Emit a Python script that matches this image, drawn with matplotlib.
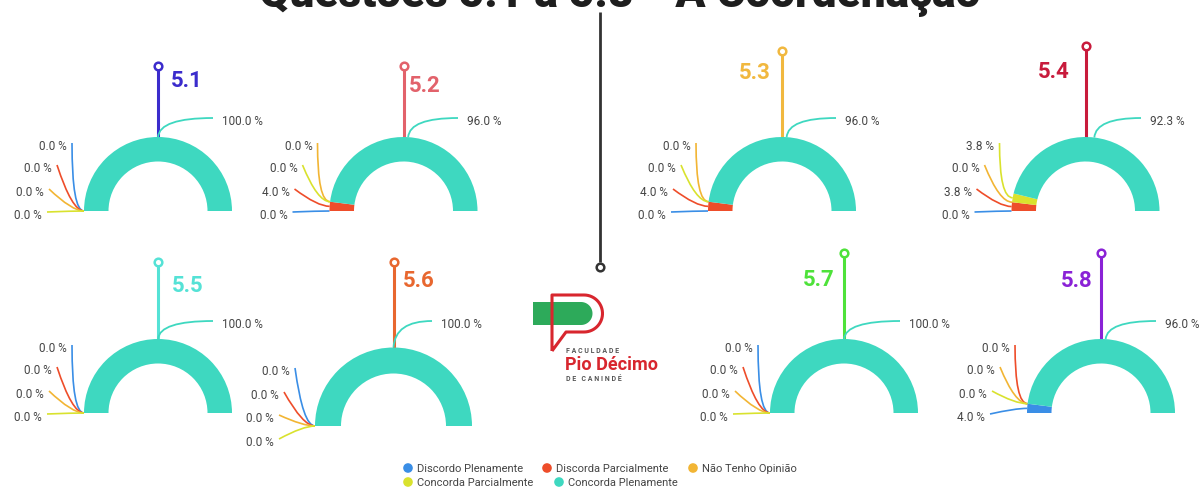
import matplotlib
matplotlib.use('Agg')
import matplotlib.pyplot as plt
from matplotlib.patches import Wedge, PathPatch
from matplotlib.path import Path
import numpy as np

plt.rcParams['font.family'] = ['Roboto', 'DejaVu Sans']

W, H = 1202, 489

# ---------------- data ----------------
title = 'Questões 5.1 a 5.8 - A Coordenação'
questions = ['5.1', '5.2', '5.3', '5.4', '5.5', '5.6', '5.7', '5.8']
categories = ['Discordo Plenamente', 'Discorda Parcialmente', 'Não Tenho Opinião',
              'Concorda Parcialmente', 'Concorda Plenamente']
discordo_plenamente = [0.0, 0.0, 0.0, 0.0, 0.0, 0.0, 0.0, 4.0]
discorda_parcialmente = [0.0, 4.0, 4.0, 3.8, 0.0, 0.0, 0.0, 0.0]
nao_tenho_opiniao = [0.0, 0.0, 0.0, 0.0, 0.0, 0.0, 0.0, 0.0]
concorda_parcialmente = [0.0, 0.0, 0.0, 3.8, 0.0, 0.0, 0.0, 0.0]
concorda_plenamente = [100.0, 96.0, 96.0, 92.3, 100.0, 100.0, 100.0, 96.0]

# ---------------- style ----------------
cat_colors = ['#3a8ee6', '#ee4d2a', '#f2b534', '#d9e22e', '#3ed8c0']
pin_colors = ['#3b2ccc', '#e2626b', '#f1b83f', '#c81b3c', '#55e2d6', '#e8672f', '#4ee23a', '#8a22d6']
text_gray = '#454545'

std_dx = [-17, -32, -40, -42]
std_dy = [-65, -43, -19, 4]
# layout per gauge (pixel coordinates, y downwards)
layout = [
    dict(cx=158, base=212, R=74, ring=24.5, pin=67, side='right', lab=(171, 81), teal=(222, 122), dx=std_dx, dy=std_dy, order=[0, 1, 2, 3]),
    dict(cx=403.5, base=212, R=74, ring=24.5, pin=67, side='right', lab=(409, 86), teal=(467, 122), dx=std_dx, dy=std_dy, order=[2, 3, 1, 0]),
    dict(cx=782, base=212, R=74, ring=24.5, pin=52, side='left', lab=(771, 73), teal=(845, 122), dx=std_dx, dy=std_dy, order=[2, 3, 1, 0]),
    dict(cx=1085.5, base=212, R=74, ring=24.5, pin=47, side='left', lab=(1070, 72), teal=(1150, 122), dx=std_dx, dy=std_dy, order=[3, 2, 1, 0]),
    dict(cx=158, base=414, R=74, ring=24.5, pin=263, side='right', lab=(172, 286), teal=(222, 325), dx=std_dx, dy=std_dy, order=[0, 1, 2, 3]),
    dict(cx=393.5, base=427, R=78.5, ring=26, pin=263, side='right', lab=(403, 281), teal=(441, 325), dx=[-25, -36, -41, -41], dy=[-55, -31, -8, 16], order=[0, 1, 2, 3]),
    dict(cx=844, base=414, R=74, ring=24.5, pin=254, side='left', lab=(834, 280), teal=(909, 325), dx=std_dx, dy=std_dy, order=[0, 1, 2, 3]),
    dict(cx=1101, base=414, R=74, ring=24.5, pin=254, side='left', lab=(1093, 281), teal=(1165, 325), dx=std_dx, dy=std_dy, order=[1, 2, 3, 0]),
]


def Y(y):
    return H - y


fig = plt.figure(figsize=(W / 100, H / 100), dpi=100)
ax = fig.add_axes([0, 0, 1, 1])
ax.set_xlim(0, W)
ax.set_ylim(0, H)
ax.axis('off')

# central divider
ax.plot([600, 600], [Y(13), Y(263)], color='#333333', lw=2.0, solid_capstyle='butt', zorder=2)
ax.plot(600, Y(268), 'o', ms=5.5, mfc='white', mec='#333333', mew=1.8, zorder=3)

series = [discordo_plenamente, discorda_parcialmente, nao_tenho_opiniao,
          concorda_parcialmente, concorda_plenamente]

for i, q in enumerate(questions):
    L = layout[i]
    cx, base, R, ring = L['cx'], L['base'], L['R'], L['ring']
    cy = Y(base)
    vals = [s[i] for s in series]
    total = sum(vals)
    # pin
    pc = pin_colors[i]
    ax.plot([cx, cx], [cy + R - 2, Y(L['pin'])], color=pc, lw=2.2, solid_capstyle='butt', zorder=2)
    ax.plot(cx, Y(L['pin']), 'o', ms=5.5, mfc='white', mec=pc, mew=1.8, zorder=3)
    lx, ly = L['lab']
    ax.text(lx, Y(ly), q, color=pc, fontsize=16, fontweight='bold',
            ha='left' if L['side'] == 'right' else 'right', va='center', zorder=4)
    # gauge segments
    start = 180.0
    mids = []
    for k, v in enumerate(vals):
        sweep = v / total * 180.0
        if sweep > 0:
            ax.add_patch(Wedge((cx, cy), R, start - sweep, start, width=ring,
                               facecolor=cat_colors[k], edgecolor='none', zorder=3))
        mids.append(start - sweep / 2)
        start -= sweep
    anchors = [(cx + R * np.cos(np.radians(a)), cy + R * np.sin(np.radians(a))) for a in mids]
    # teal label
    ax_, ay_ = anchors[4]
    tx, ty = L['teal']
    p = Path([(ax_, ay_), (ax_ + 1.5, Y(ty - 3)), (tx - 9, Y(ty - 3))],
             [Path.MOVETO, Path.CURVE3, Path.CURVE3])
    ax.add_patch(PathPatch(p, facecolor='none', edgecolor=cat_colors[4], lw=1.3, zorder=4))
    ax.text(tx, Y(ty), f'{vals[4]:.1f} %', fontsize=8.5, color=text_gray, ha='left', va='center', zorder=5)
    # left labels
    left_edge = cx - R
    for j, k in enumerate(L['order']):
        rx = left_edge + L['dx'][j]
        ry = base + L['dy'][j]
        p0 = (rx + 5, Y(ry - 3))
        a2 = anchors[k]
        p1 = (left_edge - 12, a2[1])
        p = Path([p0, p1, a2], [Path.MOVETO, Path.CURVE3, Path.CURVE3])
        ax.add_patch(PathPatch(p, facecolor='none', edgecolor=cat_colors[k], lw=1.2, zorder=2))
        ax.text(rx, Y(ry), f'{vals[k]:.1f} %', fontsize=8.5, color=text_gray, ha='right', va='center', zorder=5)

# ---------------- logo ----------------
th = np.linspace(90, -90, 30)
green = [(533, Y(303)), (581, Y(303))] + \
        [(581 + 11.5 * np.cos(np.radians(t)), Y(314.5) + 11.5 * np.sin(np.radians(t))) for t in th] + \
        [(533, Y(326)), (533, Y(303))]
ax.add_patch(PathPatch(Path(green), facecolor='#2daa5a', edgecolor='none', zorder=2))
red = [(552, Y(352)), (552, Y(296)), (584, Y(296))] + \
      [(584 + 18.5 * np.cos(np.radians(t)), Y(314.5) + 18.5 * np.sin(np.radians(t))) for t in th] + \
      [(566, Y(333)), (552, Y(352))]
ax.add_patch(PathPatch(Path(red), facecolor='none', edgecolor='#d8262e', lw=2.2, joinstyle='round', zorder=3))
ax.text(566, Y(351), 'F A C U L D A D E', fontsize=5, fontweight='bold', color='#555555', ha='left', va='center')
ax.text(565, Y(365), 'Pio Décimo', fontsize=13, fontweight='bold', color='#d8262e', ha='left', va='center')
ax.text(566, Y(379), 'D E   C A N I N D É', fontsize=5, fontweight='bold', color='#555555', ha='left', va='center')

# ---------------- legend ----------------
legend_pos = [(408, 469), (547, 469), (693, 469), (408, 483), (559, 483)]
for k, name in enumerate(categories):
    mx, my = legend_pos[k]
    ax.scatter([mx], [Y(my)], s=48, color=cat_colors[k], edgecolors='none', zorder=3)
    ax.text(mx + 9, Y(my), name, fontsize=8, color=text_gray, ha='left', va='center')

# ---------------- title (cut at top) ----------------
t = ax.text(620, Y(7), title, ha='center', va='baseline', fontsize=30,
            fontweight='heavy', color='#1e1e1e')
fig.canvas.draw()
bb = t.get_window_extent()
t.set_fontsize(30 * 722 / bb.width)

fig.savefig('out.png', dpi=100, facecolor='white')
